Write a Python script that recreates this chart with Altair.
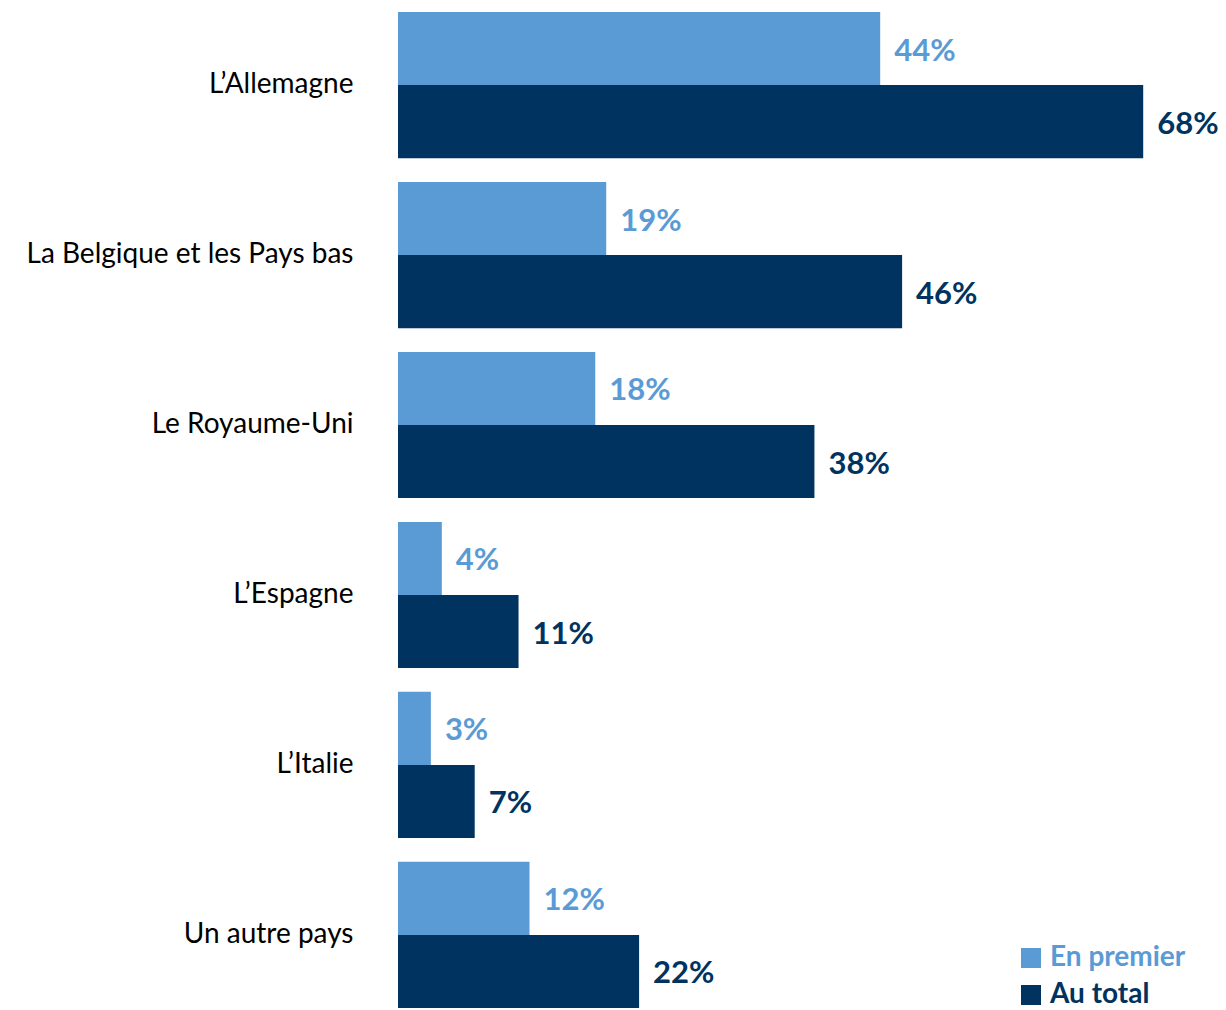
import altair as alt
import pandas as pd

categories = ["L’Allemagne", "La Belgique et les Pays bas", "Le Royaume-Uni",
              "L’Espagne", "L’Italie", "Un autre pays"]
en_premier = [44, 19, 18, 4, 3, 12]
au_total = [68, 46, 38, 11, 7, 22]
series = ["En premier", "Au total"]
colors = ["#5B9BD5", "#00335F"]

rows = []
for c, a, b in zip(categories, en_premier, au_total):
    rows.append({"pays": c, "serie": series[0], "val": a, "label": f"{a}%"})
    rows.append({"pays": c, "serie": series[1], "val": b, "label": f"{b}%"})
df = pd.DataFrame(rows)

y = alt.Y("pays:N", sort=categories, title=None,
          scale=alt.Scale(paddingInner=0.14, paddingOuter=0),
          axis=alt.Axis(domain=False, ticks=False, labelFont="Lato", labelFontSize=28,
                        labelColor="#000000", labelPadding=45, labelLimit=400))
x = alt.X("val:Q", title=None, scale=alt.Scale(domain=[0, 73], nice=False), axis=None)
yoff = alt.YOffset("serie:N", sort=series, scale=alt.Scale(paddingInner=0, paddingOuter=0))
col_scale = alt.Scale(domain=series, range=colors)

bars = alt.Chart(df).mark_bar().encode(
    y=y, x=x, yOffset=yoff,
    color=alt.Color("serie:N", scale=col_scale, sort=series, title=None,
                    legend=alt.Legend(orient="none", legendX=619, legendY=932,
                                      symbolType="square", symbolSize=400,
                                      symbolStrokeWidth=0, symbolOpacity=1,
                                      labelFont="Lato", labelFontSize=28,
                                      labelFontWeight="bold", labelOffset=5,
                                      rowPadding=9, padding=0,
                                      labelColor=alt.ExprRef("datum.label == 'En premier' ? '#5B9BD5' : '#00335F'"))),
)

texts = alt.Chart(df).mark_text(align="left", baseline="middle", dx=14, dy=3,
                                font="Lato", fontSize=31, fontWeight="bold").encode(
    y=y, x=x, yOffset=yoff, text="label:N",
    color=alt.Color("serie:N", scale=col_scale, sort=series, legend=None),
)

chart = (bars + texts).properties(
    width=800, height=996,
    autosize=alt.AutoSizeParams(type="none"),
    padding={"left": 390, "top": 4, "right": 20, "bottom": 2},
).configure_view(stroke=None)

chart.save("out.html", embed_options={"renderer": "svg", "actions": False})
